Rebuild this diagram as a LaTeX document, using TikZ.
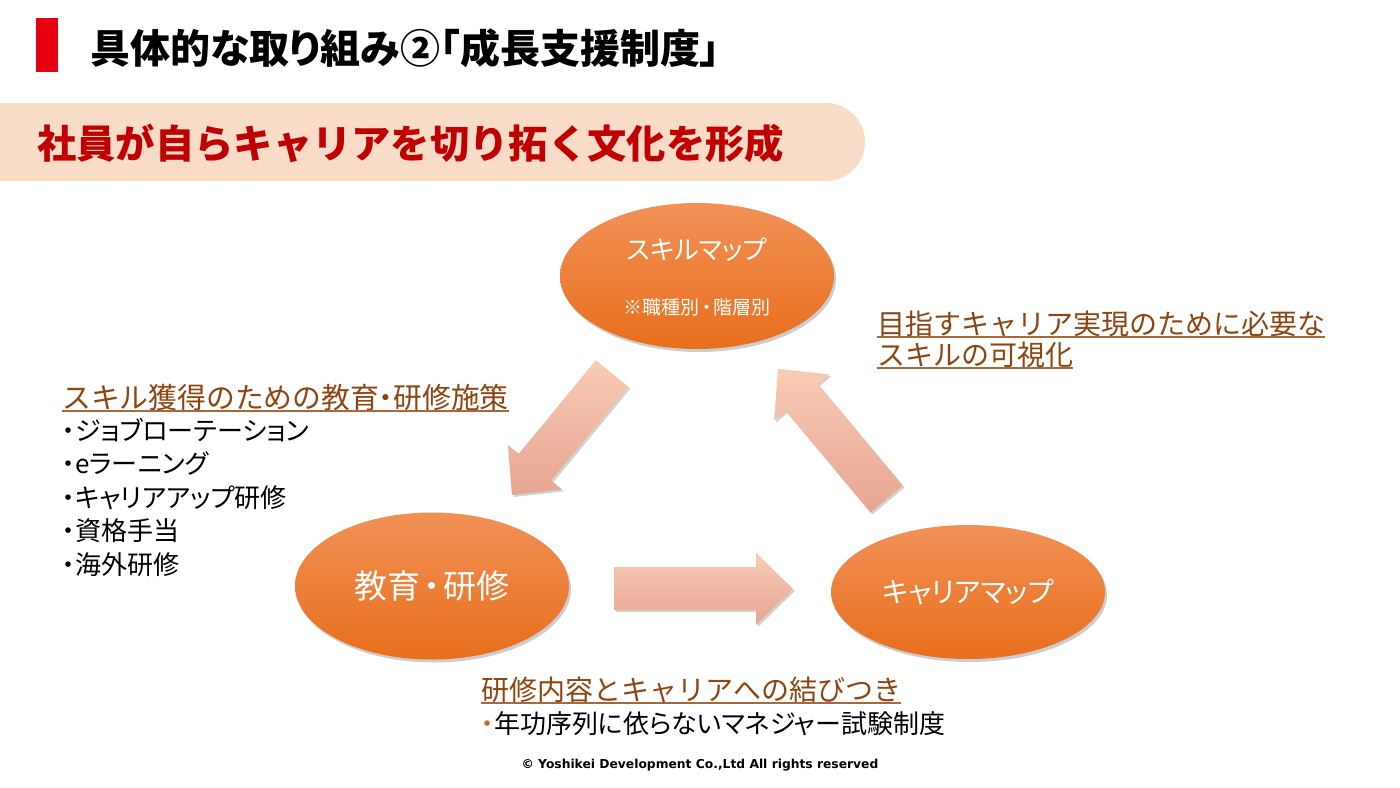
\documentclass[tikz,border=0pt]{standalone}
\usepackage{fontspec}
\usetikzlibrary{shapes.geometric,shadows}
\newfontfamily\jp[RawFeature={+palt}]{Noto Sans CJK JP}
\newfontfamily\jpf{Noto Sans CJK JP}
\newfontfamily\dv{DejaVu Sans}
\newcommand{\ndot}[1]{\hspace{#1}{\jp ・}\hspace{#1}}
\definecolor{barred}{HTML}{E60012}
\definecolor{bannerfill}{HTML}{F9DCC8}
\definecolor{bannertext}{HTML}{C00000}
\definecolor{headbrown}{HTML}{8E4510}
\definecolor{ulbrown}{HTML}{A8683A}
\definecolor{ovtop}{HTML}{F19157}
\definecolor{ovbot}{HTML}{E86E1B}
\definecolor{artop}{HTML}{F8CBB6}
\definecolor{arbot}{HTML}{E6A592}
\definecolor{bulletc}{HTML}{D2691E}
\tikzset{
  oval/.style={ellipse, inner sep=0, top color=ovtop, bottom color=ovbot, draw=none,
    drop shadow={opacity=0.28, shadow xshift=2pt, shadow yshift=-3pt, fill=black!70}},
  blockarrow/.style={top color=artop, bottom color=arbot, draw=none,
    drop shadow={opacity=0.25, shadow xshift=2pt, shadow yshift=-2pt, fill=black!70}},
  ovtext/.style={text=white, inner sep=0, font=\jp\fontsize{#1}{#1}\selectfont},
  ovtextf/.style={text=white, inner sep=0, font=\jpf\fontsize{#1}{#1}\selectfont},
  head/.style={anchor=base west, inner sep=0, text=headbrown, font=\jpf\fontsize{28}{32}\selectfont},
  body/.style={anchor=base west, inner sep=0, text=black, font=\jp\fontsize{26}{30}\selectfont},
  uline/.style={draw=ulbrown, line width=1.6pt}
}
\begin{document}
\begin{tikzpicture}[x=1pt,y=-1pt]
\useasboundingbox (0,0) rectangle (1400,787);
\fill[white] (0,0) rectangle (1400,787);
% title
\fill[barred] (36,18) rectangle (58,72);
\node[anchor=base west, inner sep=0, font=\jp\bfseries\fontsize{40}{44}\selectfont] (title) at (90,63) {具体的な取り組み②「成長支援制度」};
% banner
\fill[bannerfill, rounded corners=39pt] (-60,103) rectangle (865,181);
\node[anchor=base west, inner sep=0, text=bannertext, font=\jpf\bfseries\fontsize{39.3}{44}\selectfont] (banner) at (37,158) {社員が自らキャリアを切り拓く文化を形成};
% ovals
\node[oval, minimum width=274pt, minimum height=146pt] (skill) at (697,276) {};
\node[ovtext=26] (skillt) at (697,250) {スキルマップ};
\node[ovtextf=19] (skillsub) at (697,307) {※職種別\ndot{2pt}階層別};
\node[oval, minimum width=274pt, minimum height=147pt, ovtextf=33] (edu) at (432,586) {教育\ndot{3pt}研修};
\node[oval, minimum width=274pt, minimum height=134pt, ovtext=28] (career) at (968,592) {キャリアマップ};
% block arrows
\path[blockarrow] (595.8,360.2) -- (518.7,453.9) -- (507.9,445.0) -- (512,495) -- (561.9,489.4) -- (551.1,480.5) -- (628.2,386.8) -- cycle;
\path[blockarrow] (614,567) -- (756,567) -- (756,553) -- (793,589) -- (756,625) -- (756,610) -- (614,610) -- cycle;
\path[blockarrow] (870.4,512.5) -- (785.6,410.9) -- (774.1,420.5) -- (778,369) -- (829.3,374.3) -- (817.8,383.9) -- (902.6,485.5) -- cycle;
% left text
\node[head, font=\jpf\fontsize{28.8}{32}\selectfont] (h1) at (62,408) {スキル獲得のための教育\ndot{0pt}研修施策};
\draw[uline] ([yshift=-3pt]h1.base west) -- ([yshift=-3pt]h1.base east);
\node[body] (b1) at (62,440) {・ジョブローテーション};
\node[body] (b2) at (62,473) {・eラーニング};
\node[body] (b3) at (62,507) {・キャリアアップ研修};
\node[body] (b4) at (62,540) {・資格手当};
\node[body] (b5) at (62,574) {・海外研修};
% right text
\node[head] (h2) at (877,334) {目指すキャリア実現のために必要な};
\draw[uline] ([yshift=-3pt]h2.base west) -- ([yshift=-3pt]h2.base east);
\node[head] (h3) at (877,365) {スキルの可視化};
\draw[uline] ([yshift=-3pt]h3.base west) -- ([yshift=-3pt]h3.base east);
% bottom text
\node[head] (h4) at (481,700) {研修内容とキャリアへの結びつき};
\draw[uline] ([yshift=-3pt]h4.base west) -- ([yshift=-3pt]h4.base east);
\node[body] (b6) at (481,733) {\textcolor{bulletc}{・}年功序列に依らないマネジャー試験制度};
% footer
\node[inner sep=0, font=\dv\bfseries\fontsize{12.3}{14}\selectfont] (copy) at (700,765) {© Yoshikei Development Co.,Ltd All rights reserved};
\end{tikzpicture}
\end{document}
